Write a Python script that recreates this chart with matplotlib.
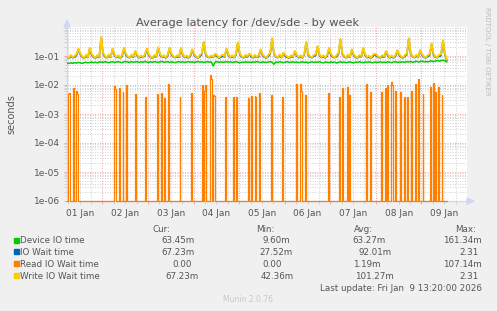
import numpy as np
import matplotlib
matplotlib.use("Agg")
import matplotlib.pyplot as plt
from matplotlib.patches import Rectangle, Polygon
from matplotlib.transforms import blended_transform_factory

W, H = 497, 311
START_H = 5 + 20 / 60.0          # Jan 1, 05:20 (hours since Jan 1 00:00)

# ---------------- data (hourly samples, milliseconds) ----------------
device_ms = [
    57, 55, 58, 56, 59, 57, 60, 58, 56, 59, 61, 58,
    60, 62, 59, 61, 58, 63, 62, 60, 64, 61, 59, 62,
    63, 60, 62, 64, 61, 59, 63, 65, 62, 60, 64, 61,
    62, 64, 60, 63, 61, 65, 62, 60, 63, 61, 64, 62,
    60, 63, 65, 61, 62, 64, 60, 63, 61, 59, 62, 64,
    61, 63, 60, 62, 64, 61, 63, 60, 62, 65, 61, 63,
    60, 62, 64, 61, 63, 45, 62, 64, 60, 63, 61, 62,
    64, 61, 63, 60, 62, 64, 61, 58, 62, 60, 63, 61,
    62, 60, 63, 61, 64, 62, 59, 63, 61, 60, 62, 64,
    61, 52, 62, 60, 63, 61, 59, 62, 64, 60, 61, 63,
    60, 62, 59, 61, 63, 60, 62, 58, 61, 63, 60, 62,
    61, 63, 60, 58, 62, 61, 59, 63, 60, 62, 57, 61,
    63, 60, 62, 59, 61, 63, 60, 58, 62, 60, 63, 61,
    59, 62, 60, 63, 61, 58, 62, 60, 61, 63, 59, 62,
    60, 63, 61, 59, 62, 64, 60, 62, 61, 63, 60, 64,
    62, 65, 61, 63, 66, 62, 64, 67, 63, 65, 62, 66,
    68, 64, 67, 70, 66, 69, 72, 68, 63,
]
iowait_ms = [
    90, 84, 97, 87, 92, 104, 170, 112, 91, 83, 99, 88,
    180, 106, 90, 85, 96, 89, 430, 118, 94, 86, 101, 90,
    171, 103, 88, 95, 84, 98, 180, 109, 92, 87, 100, 91,
    142, 99, 86, 93, 89, 102, 171, 105, 90, 84, 97, 94,
    190, 107, 89, 96, 85, 100, 180, 110, 93, 88, 95, 90,
    180, 104, 88, 92, 86, 99, 162, 106, 91, 85, 98, 112,
    295, 114, 92, 88, 94, 89, 114, 96, 84, 90, 101, 92,
    171, 105, 88, 95, 87, 109, 285, 113, 93, 86, 99, 91,
    114, 94, 87, 98, 89, 95, 162, 103, 90, 85, 97, 115,
    390, 118, 92, 88, 100, 88, 124, 97, 91, 84, 96, 90,
    142, 101, 87, 94, 86, 111, 295, 108, 92, 87, 98, 105,
    209, 103, 89, 95, 85, 99, 180, 106, 91, 88, 96, 117,
    370, 115, 93, 87, 99, 90, 162, 104, 89, 86, 97, 94,
    180, 105, 88, 92, 84, 96, 114, 100, 90, 87, 95, 92,
    142, 102, 87, 93, 86, 98, 152, 103, 91, 85, 97, 112,
    390, 116, 94, 88, 99, 89, 152, 105, 90, 86, 96, 106,
    257, 109, 91, 88, 98, 103, 333, 111, 72,
]
write_ms = [
    95, 86, 108, 91, 99, 116, 180, 124, 96, 85, 110, 92,
    190, 118, 95, 87, 107, 93, 450, 128, 101, 88, 112, 94,
    180, 114, 90, 106, 86, 109, 190, 121, 97, 89, 111, 96,
    150, 110, 88, 104, 91, 113, 180, 116, 95, 86, 108, 99,
    200, 119, 92, 107, 87, 111, 190, 122, 98, 90, 106, 95,
    190, 115, 91, 103, 88, 110, 170, 118, 96, 87, 109, 122,
    310, 126, 97, 90, 105, 92, 120, 107, 86, 101, 112, 97,
    180, 117, 91, 106, 89, 121, 300, 125, 98, 88, 110, 96,
    120, 105, 89, 109, 92, 106, 170, 114, 95, 87, 108, 125,
    410, 128, 97, 90, 111, 91, 130, 108, 96, 86, 107, 95,
    150, 112, 90, 105, 88, 121, 310, 120, 97, 89, 109, 114,
    220, 114, 92, 106, 87, 110, 190, 118, 96, 90, 107, 127,
    390, 125, 98, 89, 110, 93, 170, 115, 94, 88, 108, 99,
    190, 116, 91, 103, 86, 107, 120, 111, 95, 89, 106, 97,
    150, 113, 90, 104, 88, 109, 160, 114, 96, 87, 108, 122,
    410, 126, 99, 91, 110, 92, 160, 116, 95, 88, 107, 116,
    270, 121, 96, 90, 109, 114, 350, 123, 76,
]
# Read IO wait: mostly zero; non-zero half-hour samples (index -> seconds)
N_READ = 401
read_idx = [2, 3, 7, 10, 11, 50, 51, 55, 59, 63, 72, 83, 95, 99, 100, 103, 107,
            119, 131, 143, 145, 146, 151, 152, 154, 155, 167, 175, 179, 191,
            194, 198, 199, 203, 215, 227, 242, 246, 247, 251, 275, 287, 290,
            295, 298, 315, 320, 331, 335, 338, 342, 343, 346, 351, 355, 359,
            363, 367, 370, 375, 383, 386, 388, 391, 395]
read_val = [4.9e-3, 5.4e-3, 7.7e-3, 6.2e-3, 5.0e-3, 9.2e-3, 7.5e-3, 7.7e-3,
            5.9e-3, 1.0e-2, 4.8e-3, 3.9e-3, 4.9e-3, 5.2e-3, 5.5e-3, 3.6e-3,
            1.05e-2, 4.0e-3, 5.2e-3, 1.0e-2, 6.0e-3, 1.0e-2, 2.2e-2, 1.6e-2,
            4.5e-3, 4.3e-3, 4.0e-3, 3.8e-3, 4.0e-3, 3.6e-3, 4.1e-3, 4.1e-3,
            3.9e-3, 5.2e-3, 4.5e-3, 3.9e-3, 1.08e-2, 1.08e-2, 6.0e-3, 4.5e-3,
            5.2e-3, 3.9e-3, 8.1e-3, 8.8e-3, 4.5e-3, 1.08e-2, 5.9e-3, 5.9e-3,
            8.1e-3, 1.0e-2, 1.24e-2, 1.0e-2, 6.2e-3, 5.9e-3, 3.95e-3, 3.95e-3,
            6.2e-3, 1.05e-2, 1.6e-2, 4.8e-3, 8.8e-3, 1.14e-2, 5.9e-3, 8.8e-3,
            4.5e-3]

day_labels = ["01 Jan", "02 Jan", "03 Jan", "04 Jan", "05 Jan",
              "06 Jan", "07 Jan", "08 Jan", "09 Jan"]
ytick_vals = [1e-6, 1e-5, 1e-4, 1e-3, 1e-2, 1e-1]
ytick_labels = ["1e-06", "1e-05", "1e-04", "1e-03", "1e-02", "1e-01"]

legend_names = ["Device IO time", "IO Wait time", "Read IO Wait time", "Write IO Wait time"]
legend_colors = ["#00CC00", "#0066B3", "#FF8000", "#FFCC00"]
cur_vals = ["63.45m", "67.23m", "0.00", "67.23m"]
min_vals = ["9.60m", "27.52m", "0.00", "42.36m"]
avg_vals = ["63.27m", "92.01m", "1.19m", "101.27m"]
max_vals = ["161.34m", "2.31", "107.14m", "2.31"]

# ---------------- figure ----------------
FONT = "DejaVu Sans"
TXT = "#555555"
plt.rcParams["font.family"] = [FONT]

fig = plt.figure(figsize=(W / 100, H / 100), dpi=100, facecolor="#F0F0F0")

def fx(x):
    return x / W

def fy(y):
    return 1 - y / H

L, R, T, B = 67, 467, 27, 201
ax = fig.add_axes([fx(L), fy(B), (R - L) / W, (B - T) / H])
ax.set_facecolor("white")

YMIN, YMAX = 1e-6, 1e0
ax.set_yscale("log")
ax.set_ylim(YMIN, YMAX)
ax.set_xlim(START_H, START_H + 200)

# grid
ax.set_xticks(np.arange(24, 24 * 9 + 1, 24))
ax.set_xticks([h for h in np.arange(6, 24 * 9 + 1, 6) if h % 24 != 0], minor=True)
ax.set_xticklabels([])
ax.set_yticks(ytick_vals)
ax.set_yticklabels(ytick_labels)
minor_y = [m * 10.0 ** e for e in range(-6, 0) for m in range(2, 10)]
ax.set_yticks(minor_y, minor=True)
ax.yaxis.set_minor_formatter(matplotlib.ticker.NullFormatter())

dot = (0, (1, 1.5))
ax.grid(True, which="minor", color="#D2D2D2", linestyle=dot, linewidth=0.72, zorder=0)
ax.grid(True, which="major", color="#F0A8A8", linestyle=dot, linewidth=0.72, zorder=0)
ax.set_axisbelow(True)

ax.tick_params(axis="both", which="both", length=2, width=0.72, color="#D2D2D2",
               labelsize=6.5, labelcolor=TXT)
ax.tick_params(axis="both", which="major", color="#F0A8A8")
ax.tick_params(axis="y", pad=3)

for s in ["top", "right"]:
    ax.spines[s].set_visible(False)
for s in ["left", "bottom"]:
    ax.spines[s].set_color("#CFD6F8")
    ax.spines[s].set_linewidth(0.9)

# day labels centred at noon
tb = blended_transform_factory(ax.transData, fig.transFigure)
for d, lab in enumerate(day_labels):
    ax.text(12 + 24 * d, fy(216), lab, transform=tb, ha="center", va="baseline",
            fontsize=6.5, color=TXT, clip_on=False)

# ---------------- series ----------------
t_hour = START_H + np.arange(len(write_ms))
t_read = START_H + 0.5 * np.arange(N_READ)
read_s = np.zeros(N_READ)
read_s[read_idx] = read_val

ax.plot(t_hour, np.array(device_ms) / 1000.0, color=legend_colors[0], lw=1.1, zorder=3)
ax.plot(t_hour, np.array(iowait_ms) / 1000.0, color=legend_colors[1], lw=1.2, zorder=3)
ax.plot(t_read, np.maximum(read_s, YMIN), color=legend_colors[2], lw=0.9,
        drawstyle="steps-mid", zorder=3, clip_on=False)
ax.plot(t_hour, np.array(write_ms) / 1000.0, color=legend_colors[3], lw=1.4, zorder=4)

# axis arrows
arrow_c = "#CFD6F8"
fig.add_artist(Polygon([[fx(64), fy(27)], [fx(70), fy(27)], [fx(67), fy(20)]],
                       closed=True, color=arrow_c, transform=fig.transFigure))
fig.add_artist(Polygon([[fx(467), fy(198)], [fx(467), fy(204)], [fx(474), fy(201)]],
                       closed=True, color=arrow_c, transform=fig.transFigure))

# ---------------- texts ----------------
fig.text(fx(248), fy(26), "Average latency for /dev/sde - by week", ha="center",
         va="baseline", fontsize=8.2, color=TXT)
fig.text(fx(11), fy(114), "seconds", rotation=90, ha="center", va="center",
         fontsize=7, color=TXT)
fig.text(fx(487), fy(51), "RRDTOOL / TOBI OETIKER", rotation=270, ha="center",
         va="center", fontsize=5, color="#BBBBBB")

LS = 6.3
headers = [("Cur:", 161.5), ("Min:", 265), ("Avg:", 364), ("Max:", 466)]
for txt, x in headers:
    fig.text(fx(x), fy(231.5), txt, ha="center", va="baseline", fontsize=LS, color=TXT)

row_base = [243.3, 255.0, 266.8, 278.8]
cur_c = [177.5, 177.5, 182, 182.5]
min_c = [276.3, 276.2, 272, 277]
avg_c = [369.3, 375, 366.3, 374.8]
max_c = [462, 469.5, 462, 469.5]
for i in range(4):
    yb = row_base[i]
    fig.add_artist(Rectangle((fx(14), fy(yb - 0.8)), 5 / W, 5 / H,
                             color=legend_colors[i], transform=fig.transFigure))
    fig.text(fx(20), fy(yb), legend_names[i], ha="left", va="baseline", fontsize=LS, color=TXT)
    fig.text(fx(cur_c[i]), fy(yb), cur_vals[i], ha="center", va="baseline", fontsize=LS, color=TXT)
    fig.text(fx(min_c[i]), fy(yb), min_vals[i], ha="center", va="baseline", fontsize=LS, color=TXT)
    fig.text(fx(avg_c[i]), fy(yb), avg_vals[i], ha="center", va="baseline", fontsize=LS, color=TXT)
    fig.text(fx(max_c[i]), fy(yb), max_vals[i], ha="center", va="baseline", fontsize=LS, color=TXT)

fig.text(fx(482), fy(291), "Last update: Fri Jan  9 13:20:00 2026", ha="right",
         va="baseline", fontsize=LS, color=TXT)
fig.text(fx(248), fy(302), "Munin 2.0.76", ha="center", va="baseline",
         fontsize=5.5, color="#C8C8C8")

fig.savefig("out.png", dpi=100, facecolor=fig.get_facecolor())
